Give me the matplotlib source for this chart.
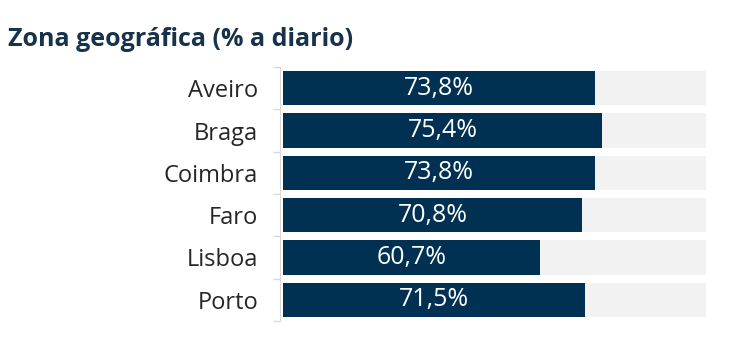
import matplotlib.pyplot as plt
import numpy as np

# datos por zona
zonas = ['Aveiro', 'Braga', 'Coimbra', 'Faro', 'Lisboa', 'Porto']
valores = [73.8, 75.4, 73.8, 70.8, 60.7, 71.5]
total = [100, 100, 100, 100, 100, 100]

azul = '#003152'
gris = '#f2f2f2'

plt.rcParams['font.family'] = ['Open Sans', 'DejaVu Sans']

fig = plt.figure(figsize=(7.35, 3.5), dpi=100)
ax = fig.add_axes([283/735, 1 - 321/350, (706 - 283)/735, (321 - 67)/350])

y = np.arange(len(zonas))
ax.barh(y, total, height=0.81, color=gris)
ax.barh(y, valores, height=0.81, color=azul)

for yi, v in zip(y, valores):
    ax.text(v / 2, yi, f'{v:.1f}%'.replace('.', ','), ha='center', va='center',
            color='white', fontsize=18)

ax.set_xlim(0, 100)
ax.set_ylim(len(zonas) - 0.5, -0.5)
ax.set_yticks(y)
ax.set_yticklabels(zonas)
ax.set_yticks(np.arange(-0.5, len(zonas)), minor=True)
ax.tick_params(axis='y', which='major', length=0, pad=16, labelsize=17,
               labelcolor='#262626')
ax.tick_params(axis='y', which='minor', length=5, color='#d9d9d9', width=1)
ax.set_xticks([])

for s in ['top', 'right', 'bottom']:
    ax.spines[s].set_visible(False)
ax.spines['left'].set_color('#d9d9d9')
ax.spines['left'].set_position(('outward', 2))

fig.text(8/735, 1 - 40/350, 'Zona geográfica (% a diario)', fontsize=18,
         fontweight='bold', color='#17324a', va='center', ha='left')

fig.savefig('out.png', dpi=100)
